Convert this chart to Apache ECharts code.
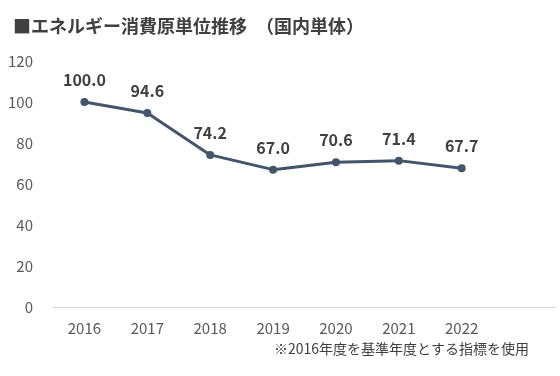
<!DOCTYPE html>
<html>
<head>
<meta charset="utf-8">
<script src="https://cdn.jsdelivr.net/npm/echarts@6/dist/echarts.min.js"></script>
<style>
  html, body { margin: 0; padding: 0; background: #fff; }
  #chart { width: 560px; height: 376px; }
</style>
</head>
<body>
<div id="chart"></div>
<script>
// データ
const years = ['2016', '2017', '2018', '2019', '2020', '2021', '2022'];
const intensity = [100.0, 94.6, 74.2, 67.0, 70.6, 71.4, 67.7];
const yTicks = { min: 0, max: 120, interval: 20 };

const titleText = '■エネルギー消費原単位推移　（国内単体）';
const noteText = '※2016年度を基準年度とする指標を使用';

const font = '"Noto Sans CJK JP", "Noto Sans", sans-serif';

let myChart = echarts.init(document.getElementById('chart'));

let option = {
    animation: false,
    title: {
        text: titleText,
        left: 8,
        top: 12,
        textStyle: {
            color: '#404040',
            fontSize: 18,
            fontWeight: 'bold',
            fontFamily: font
        }
    },
    graphic: [{
        type: 'text',
        right: 31,
        top: 342,
        style: {
            text: noteText,
            fill: '#404040',
            fontSize: 14,
            fontFamily: font
        }
    }],
    grid: {
        left: 53,
        right: 4,
        top: 61,
        bottom: 69,
        containLabel: false
    },
    xAxis: {
        type: 'category',
        data: years,
        max: 7,            // 右側に空きを一つ残す
        boundaryGap: true,
        axisLine: { show: true, lineStyle: { color: '#d9d9d9', width: 1 } },
        axisTick: { show: false },
        axisLabel: {
            color: '#595959',
            fontSize: 15,
            margin: 14,
            fontFamily: font
        }
    },
    yAxis: {
        type: 'value',
        min: yTicks.min,
        max: yTicks.max,
        interval: yTicks.interval,
        axisLine: { show: false },
        axisTick: { show: false },
        splitLine: { show: false },
        axisLabel: {
            color: '#595959',
            fontSize: 15,
            margin: 20,
            fontFamily: font
        }
    },
    series: [{
        type: 'line',
        data: intensity,
        symbol: 'circle',
        symbolSize: 8,
        lineStyle: { color: '#44546a', width: 3 },
        itemStyle: { color: '#44546a' },
        label: {
            show: true,
            position: 'top',
            distance: 10,
            color: '#404040',
            fontSize: 16,
            fontWeight: 'bold',
            fontFamily: font,
            formatter: function (p) {
                return p.value.toFixed(1);
            }
        }
    }]
};

myChart.setOption(option);
</script>
</body>
</html>
